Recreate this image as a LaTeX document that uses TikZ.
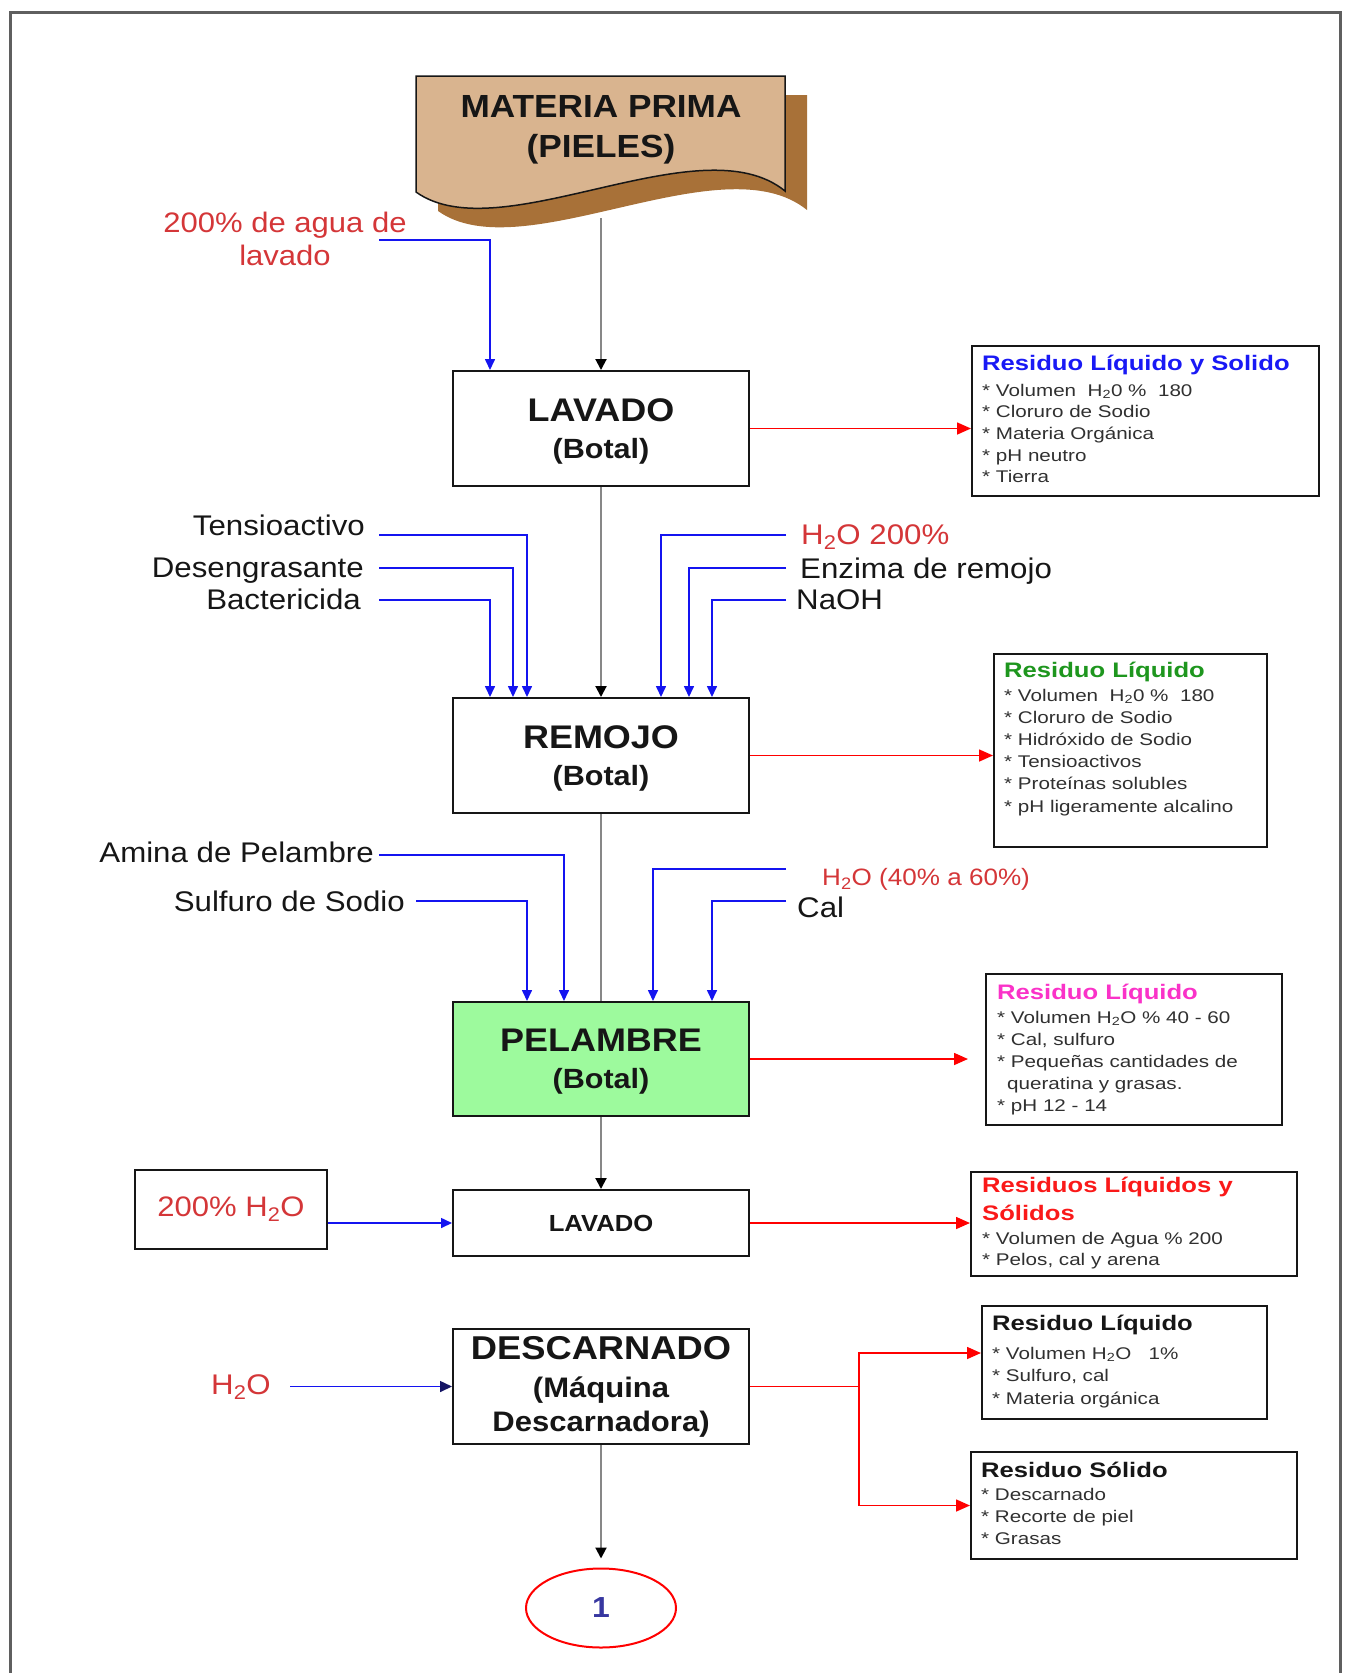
\documentclass[tikz,border=0pt]{standalone}
\usepackage{fontspec}
\setmainfont{Liberation Sans}
\newfontfamily\labfont{Liberation Sans}[FakeStretch=1.1]
\newfontfamily\resfont{Liberation Sans}[FakeStretch=1.22]
\usetikzlibrary{arrows.meta,shapes.geometric}

\definecolor{tanfill}{RGB}{217,180,143}
\definecolor{tanshade}{RGB}{168,113,56}
\definecolor{ink}{RGB}{22,22,22}
\definecolor{itemink}{RGB}{48,48,48}
\definecolor{labred}{RGB}{212,54,56}
\definecolor{flowgray}{RGB}{135,135,135}
\definecolor{framegray}{RGB}{95,95,95}
\definecolor{feedblue}{RGB}{20,20,240}
\definecolor{navytip}{RGB}{20,20,100}
\definecolor{limefill}{RGB}{157,250,157}
\definecolor{ttlblue}{RGB}{25,25,245}
\definecolor{ttlgreen}{RGB}{30,150,30}
\definecolor{ttlmag}{RGB}{250,50,200}
\definecolor{ttlred}{RGB}{250,25,25}
\definecolor{numblue}{RGB}{55,55,160}

% taller first line, to sit the two-line step labels a little lower
\newcommand{\toprule}{\rule{0pt}{28pt}}

\begin{document}
\begin{tikzpicture}[x=1pt,y=-1pt,
  stepbox/.style={draw=ink, line width=2pt, fill=white, align=center, text=ink,
    inner sep=0pt, minimum width=296pt,
    font=\labfont\bfseries\fontsize{27.8}{37}\selectfont},
  lbl/.style={font=\labfont\fontsize{28.4}{34}\selectfont, text=ink, inner sep=0pt,
    text height=20pt, text depth=0pt},
  redlbl/.style={lbl, text=labred},
  resbox/.style={draw=ink, line width=2pt, anchor=north west, inner sep=0pt},
  ttl/.style={font=\resfont\bfseries\fontsize{21}{25}\selectfont, anchor=west,
    inner sep=0pt, text height=15pt, text depth=0pt},
  itm/.style={font=\resfont\fontsize{16.9}{20}\selectfont, text=itemink, anchor=west,
    inner sep=0pt, text height=12pt, text depth=0pt},
  flow/.style={draw=flowgray, line width=2pt},
  flowarrow/.style={flow, -{Triangle[length=11pt,width=11pt,color=black]}},
  feed/.style={draw=feedblue, line width=1.6pt, -{Triangle[length=11pt,width=10pt]}},
  feednavy/.style={draw=feedblue, line width=1.6pt, -{Triangle[length=12pt,width=11pt,color=navytip]}},
  wasteline/.style={draw=red, line width=1.6pt},
  waste/.style={wasteline, -{Triangle[length=14pt,width=12pt]}}
]
\useasboundingbox (0,0) rectangle (1348,1673);

% outer frame, open at the bottom
\draw[framegray, line width=3pt] (10,1700) -- (10,12) -- (1340,12) -- (1340,1700);

% raw material: document shape with its shadow
\fill[tanshade, shift={(22,19)}] (416,76) -- (785,76) -- (785,191)
  .. controls (700,122) and (500,252) .. (416,192) -- cycle;
\filldraw[fill=tanfill, draw=ink, line width=1.5pt] (416,76) -- (785,76) -- (785,191)
  .. controls (700,122) and (500,252) .. (416,192) -- cycle;
\node[align=center, inner sep=0pt, text=ink,
  font=\labfont\bfseries\fontsize{32}{40}\selectfont] (doc) at (601,127)
  {\toprule MATERIA PRIMA\\(PIELES)};
\coordinate (docb) at (601,218);

% process steps
\node[stepbox, minimum height=115pt] (lav1) at (601,428.5)
  {{\fontsize{32.7}{37}\selectfont\toprule LAVADO}\\(Botal)};
\node[stepbox, minimum height=115pt] (rem) at (601,755.5)
  {{\fontsize{32.7}{37}\selectfont\toprule REMOJO}\\(Botal)};
\node[stepbox, minimum height=114pt, fill=limefill] (pel) at (601,1059)
  {{\fontsize{32.7}{37}\selectfont\toprule PELAMBRE}\\(Botal)};
\node[stepbox, minimum height=66pt, font=\labfont\bfseries\fontsize{23.3}{28}\selectfont]
  (lav2) at (601,1223) {LAVADO};
\node[stepbox, minimum height=115pt, font=\labfont\bfseries\fontsize{28.2}{34}\selectfont]
  (desc) at (601,1386.5)
  {{\fontsize{33}{38}\selectfont DESCARNADO}\\[4pt](Máquina\\Descarnadora)};
\node[draw=red, line width=2pt, ellipse, minimum width=150pt, minimum height=79pt,
  inner sep=0pt, text=numblue, font=\labfont\bfseries\fontsize{29}{30}\selectfont]
  (fin) at (601,1608) {1};

% main flow
\draw[flowarrow] (docb) -- (lav1);
\draw[flowarrow] (lav1) -- (rem);
\draw[flow] (rem) -- (pel);
\draw[flowarrow] (pel) -- (lav2);
\draw[flowarrow] (desc) -- ([yshift=9pt]fin.north);

% inputs to the first washing
\node[align=center, inner sep=0pt, text=labred,
  font=\labfont\fontsize{28.2}{33}\selectfont] (agua) at (285,238.5)
  {200\% de agua de\\lavado};
\coordinate (c-agua) at (379,240);
\draw[feed] (c-agua) -| ([xshift=-111pt]lav1.north);

% inputs to soaking
\node[lbl, anchor=east] (tens) at (365,525) {Tensioactivo};
\node[lbl, anchor=east] (deseng) at (364,567) {Desengrasante};
\node[lbl, anchor=east] (bact) at (361,599) {Bactericida};
\node[redlbl, anchor=west] (agua2) at (801,534) {H\textsubscript{2}O 200\%};
\node[lbl, anchor=west] (enz) at (800,568) {Enzima de remojo};
\node[lbl, anchor=west] (naoh) at (796,599) {NaOH};
\coordinate (c-tens) at (379,535);
\coordinate (c-deseng) at (379,568);
\coordinate (c-bact) at (379,600);
\coordinate (c-agua2) at (786,535);
\coordinate (c-enz) at (786,568);
\coordinate (c-naoh) at (786,600);
\draw[feed] (c-tens) -| ([xshift=-74pt]rem.north);
\draw[feed] (c-deseng) -| ([xshift=-88pt]rem.north);
\draw[feed] (c-bact) -| ([xshift=-111pt]rem.north);
\draw[feed] (c-agua2) -| ([xshift=60pt]rem.north);
\draw[feed] (c-enz) -| ([xshift=88pt]rem.north);
\draw[feed] (c-naoh) -| ([xshift=111pt]rem.north);

% inputs to unhairing
\node[lbl, anchor=east] (amina) at (374,852) {Amina de Pelambre};
\node[lbl, anchor=east] (sulf) at (405,901) {Sulfuro de Sodio};
\node[redlbl, anchor=west, font=\labfont\fontsize{23.7}{28}\selectfont, text height=17pt]
  (agua3) at (822,877) {H\textsubscript{2}O (40\% a 60\%)};
\node[lbl, anchor=west] (cal) at (797,907) {Cal};
\coordinate (c-amina) at (379,855);
\coordinate (c-sulf) at (416,901);
\coordinate (c-agua3) at (786,869);
\coordinate (c-cal) at (786,901);
\draw[feed] (c-amina) -| ([xshift=-37pt]pel.north);
\draw[feed] (c-sulf) -| ([xshift=-74pt]pel.north);
\draw[feed] (c-agua3) -| ([xshift=52pt]pel.north);
\draw[feed] (c-cal) -| ([xshift=111pt]pel.north);

% inputs to second washing and fleshing
\node[draw=ink, line width=2pt, minimum width=192pt, minimum height=79pt, inner sep=0pt,
  text=labred, font=\labfont\fontsize{28.2}{34}\selectfont] (h2obox) at (231,1209.5)
  {200\% H\textsubscript{2}O};
\draw[feed] (h2obox.east |- lav2.west) -- (lav2.west);
\node[redlbl] (h2od) at (241,1384) {H\textsubscript{2}O};
\coordinate (c-h2od) at (290,1386.5);
\draw[feednavy] (c-h2od) -- (c-h2od -| desc.west);

% residue boxes
\node[resbox, minimum width=347pt, minimum height=150pt] (r1) at (971,345) {};
\node[ttl, text=ttlblue] (r1t) at (982,363) {Residuo Líquido y Solido};
\foreach \txt [count=\i from 0] in {{* Volumen\ \ H\textsubscript{2}0 \%\ \ 180},
    {* Cloruro de Sodio}, {* Materia Orgánica}, {* pH neutro}, {* Tierra}}
  \node[itm] (r1i\i) at (982,{390+21.7*\i}) {\txt};

\node[resbox, minimum width=273pt, minimum height=193pt] (r2) at (993,653) {};
\node[ttl, text=ttlgreen] (r2t) at (1004,670) {Residuo Líquido};
\foreach \txt [count=\i from 0] in {{* Volumen\ \ H\textsubscript{2}0 \%\ \ 180},
    {* Cloruro de Sodio}, {* Hidróxido de Sodio}, {* Tensioactivos},
    {* Proteínas solubles}, {* pH ligeramente alcalino}}
  \node[itm] (r2i\i) at (1004,{695+22.2*\i}) {\txt};

\node[resbox, minimum width=296pt, minimum height=151pt] (r3) at (985,973) {};
\node[ttl, text=ttlmag] (r3t) at (997,992) {Residuo Líquido};
\node[itm] (r3i0) at (997,1017) {* Volumen H\textsubscript{2}O \% 40 - 60};
\node[itm] (r3i1) at (997,1039.2) {* Cal, sulfuro};
\node[itm] (r3i2) at (997,1061.4) {* Pequeñas cantidades de};
\node[itm] (r3i3) at (1007,1083.6) {queratina y grasas.};
\node[itm] (r3i4) at (997,1105.8) {* pH 12 - 14};

\node[resbox, minimum width=326pt, minimum height=104pt] (r4) at (970,1171) {};
\node[ttl, text=ttlred] (r4t) at (982,1185) {Residuos Líquidos y};
\node[ttl, text=ttlred] (r4u) at (982,1213) {Sólidos};
\node[itm] (r4i0) at (982,1238) {* Volumen de Agua \% 200};
\node[itm] (r4i1) at (982,1259) {* Pelos, cal y arena};

\node[resbox, minimum width=285pt, minimum height=113pt] (r5) at (981,1305) {};
\node[ttl, text=ink] (r5t) at (992,1323) {Residuo Líquido};
\foreach \txt [count=\i from 0] in {{* Volumen H\textsubscript{2}O\ \ \ 1\%},
    {* Sulfuro, cal}, {* Materia orgánica}}
  \node[itm] (r5i\i) at (992,{1353+22.5*\i}) {\txt};

\node[resbox, minimum width=326pt, minimum height=107pt] (r6) at (970,1451) {};
\node[ttl, text=ink] (r6t) at (981,1470) {Residuo Sólido};
\foreach \txt [count=\i from 0] in {{* Descarnado}, {* Recorte de piel}, {* Grasas}}
  \node[itm] (r6i\i) at (981,{1494+22*\i}) {\txt};

% waste streams
\draw[waste] (lav1.east) -- (lav1.east -| r1.west);
\draw[waste] (rem.east) -- (rem.east -| r2.west);
\coordinate (c-pel) at (968,1059);
\draw[waste] (pel.east) -- (c-pel);
\draw[waste] (lav2.east) -- (lav2.east -| r4.west);
\coordinate (br) at (859,1386.5);
\draw[wasteline] (desc.east) -- (br);
\draw[waste] (br) |- (r5.west |- 0,1353);
\draw[waste] (br) |- (r6.west);
\end{tikzpicture}
\end{document}
